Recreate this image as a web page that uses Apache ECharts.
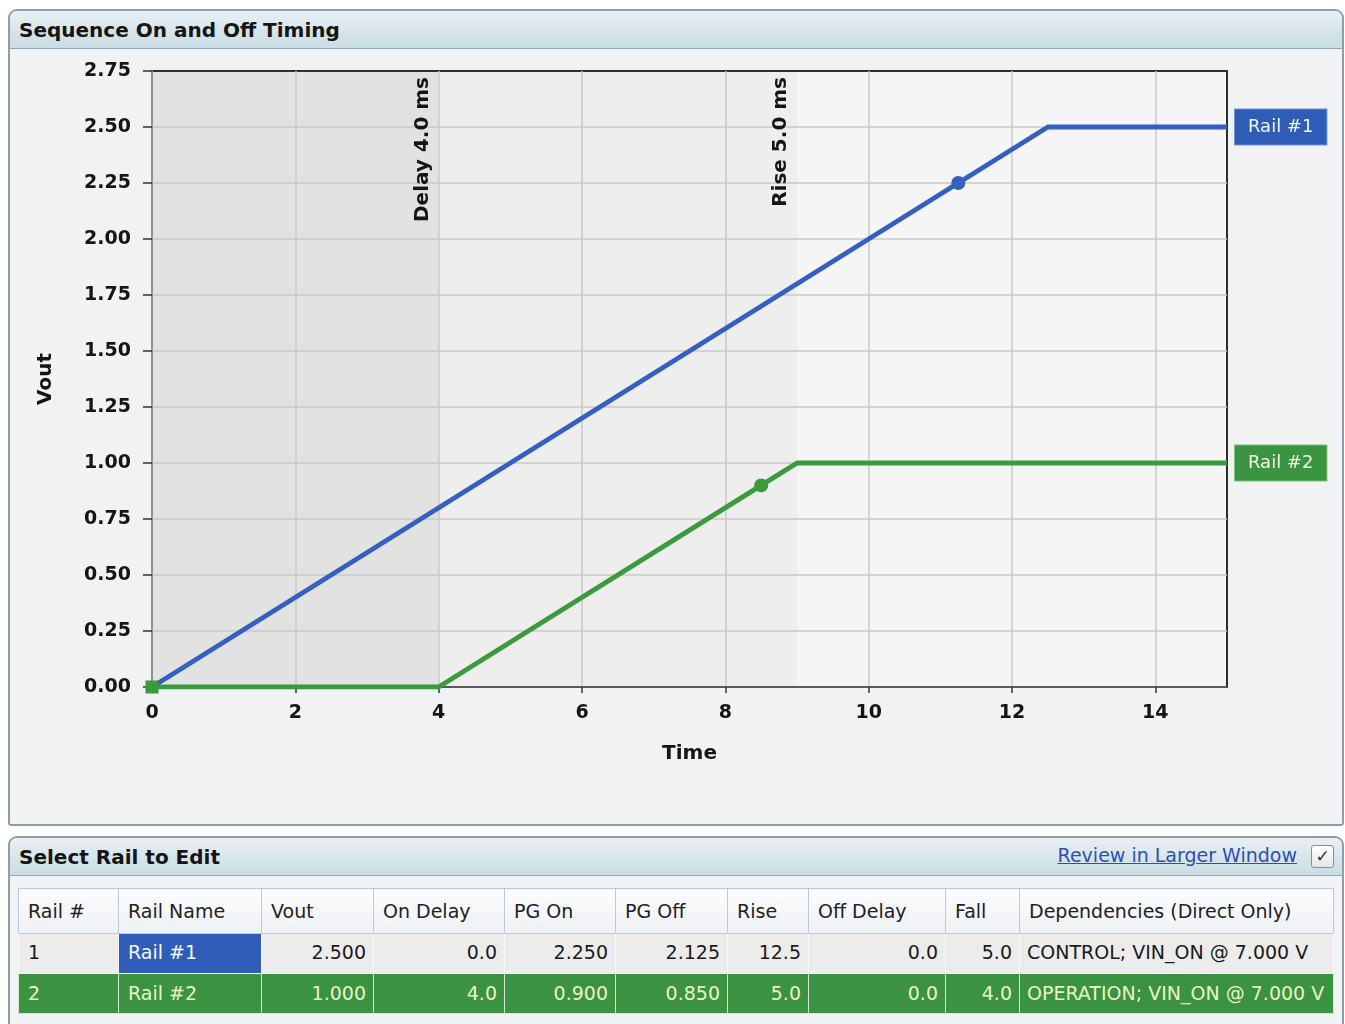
<!DOCTYPE html>
<html>
<head>
<meta charset="utf-8">
<script src="https://cdn.jsdelivr.net/npm/echarts@6/dist/echarts.min.js"></script>
<style>
  html, body { margin: 0; padding: 0; background: #ffffff; width: 1345px; height: 1024px; overflow: hidden;
    font-family: "DejaVu Sans", sans-serif; }
  .panel { position: absolute; left: 8px; width: 1336px; box-sizing: border-box; border: 2px solid #8d9ea6;
    border-radius: 9px 9px 3px 3px; background: #f0f2f3; overflow: hidden; }
  .hdr { height: 37px; background: linear-gradient(#e7f0f4, #cadce4); border-bottom: 1px solid #93a8b1;
    font-weight: bold; font-size: 20px; line-height: 38px; padding-left: 9px; color: #151515; }
  #p1 { top: 9px; height: 817px; }
  #p2 { top: 836px; height: 210px; }
  #chart { position: absolute; left: 0; top: 0; width: 1345px; height: 830px; }
  #link { position: absolute; right: 48px; top: 844px; font-size: 19px; color: #2c4fb6; text-decoration: underline; }
  #chk { position: absolute; left: 1311px; top: 845px; width: 21px; height: 21px; border: 1px solid #8b8f93;
    border-radius: 3px; background: linear-gradient(#ffffff, #e4e7ea); font-size: 17px; line-height: 21px;
    text-align: center; color: #333; }
  #tblWrap { position: absolute; left: 18px; top: 888px; width: 1315px; }
  table { border-collapse: collapse; table-layout: fixed; width: 1315px; font-size: 19px; }
  th, td { white-space: nowrap; overflow: hidden; padding: 0 7px 0 9px; }
  th { height: 44px; font-weight: normal; text-align: left; color: #222;
    background: linear-gradient(#fbfcfd, #eef1f5); border: 1px solid #bdc9df; }
  td { height: 39px; }
  tr.r1 td { background: #ececec; color: #1a1a1a; border: 1px solid #fafafa; padding-bottom: 4px; height: 35px; }
  tr.r2 td { background: #3b9240; color: #e9f6c6; border: 1px solid #d7e6d3; padding-bottom: 2px; height: 37px; }
  td.num { text-align: right; }
  td.sel { background: #2f5cb6 !important; color: #f4f7ff !important; }
  td.dep { padding-left: 7px; padding-right: 0; text-overflow: clip; }
</style>
</head>
<body>
<div class="panel" id="p1"><div class="hdr">Sequence On and Off Timing</div></div>
<div class="panel" id="p2"><div class="hdr">Select Rail to Edit</div></div>
<div id="link">Review in Larger Window</div>
<div id="chk">✓</div>
<div id="tblWrap"></div>
<div id="chart"></div>

<script>
// Rail settings shown in the edit table
const colHeads   = ['Rail #', 'Rail Name', 'Vout', 'On Delay', 'PG On', 'PG Off', 'Rise', 'Off Delay', 'Fall', 'Dependencies (Direct Only)'];
const colWidths  = [100, 143, 112, 131, 111, 112, 81, 137, 74, 314];
const railNums   = ['1', '2'];
const railNames  = ['Rail #1', 'Rail #2'];
const railVout   = ['2.500', '1.000'];
const railOnDly  = ['0.0', '4.0'];
const railPgOn   = ['2.250', '0.900'];
const railPgOff  = ['2.125', '0.850'];
const railRise   = ['12.5', '5.0'];
const railOffDly = ['0.0', '0.0'];
const railFall   = ['5.0', '4.0'];
const railDeps   = ['CONTROL; VIN_ON @ 7.000 V', 'OPERATION; VIN_ON @ 7.000 V'];

// Ramp waveforms (time in ms, voltage in V)
const rail1Time = [0, 11.25, 12.5, 15];
const rail1Volt = [0, 2.25, 2.5, 2.5];
const rail1PgIndex = 1;
const rail2Time = [0, 4, 8.5, 9, 15];
const rail2Volt = [0, 0, 0.9, 1.0, 1.0];
const rail2PgIndex = 2;

// Phase bands of the selected rail
const phaseEdges  = [0, 4, 9, 15];
const phaseFills  = ['#e2e2e2', '#eeeeee', '#f5f5f5'];
const phaseLabels = ['Delay 4.0 ms', 'Rise 5.0 ms'];

const railColors = ['#3461c1', '#3b9b3c'];
const railLabelFills = ['#2f5cb6', '#3a9440'];

// ---- table ----
(function buildTable() {
  let html = '<table><colgroup>' + colWidths.map(w => '<col style="width:' + w + 'px">').join('') + '</colgroup>';
  html += '<tr>' + colHeads.map(h => '<th>' + h + '</th>').join('') + '</tr>';
  for (let i = 0; i < railNums.length; i++) {
    html += '<tr class="r' + (i + 1) + '">' +
      '<td>' + railNums[i] + '</td>' +
      '<td class="' + (i === 0 ? 'sel' : '') + '">' + railNames[i] + '</td>' +
      '<td class="num">' + railVout[i] + '</td>' +
      '<td class="num">' + railOnDly[i] + '</td>' +
      '<td class="num">' + railPgOn[i] + '</td>' +
      '<td class="num">' + railPgOff[i] + '</td>' +
      '<td class="num">' + railRise[i] + '</td>' +
      '<td class="num">' + railOffDly[i] + '</td>' +
      '<td class="num">' + railFall[i] + '</td>' +
      '<td class="dep">' + railDeps[i] + '</td></tr>';
  }
  html += '</table>';
  document.getElementById('tblWrap').innerHTML = html;
})();

// ---- chart ----
function rampData(times, volts, pgIndex, firstSymbol) {
  return times.map((t, i) => {
    const item = { value: [t, volts[i]], symbol: 'none' };
    if (i === pgIndex) { item.symbol = 'circle'; item.symbolSize = 14; }
    if (i === 0 && firstSymbol) { item.symbol = firstSymbol; item.symbolSize = 13; }
    return item;
  });
}

const chart = echarts.init(document.getElementById('chart'), null, { renderer: 'canvas' });
const axisFont = { fontFamily: 'DejaVu Sans', fontWeight: 'bold', color: '#151515' };

chart.setOption({
  animation: false,
  backgroundColor: 'transparent',
  grid: { left: 152, right: 118, top: 71, height: 616, show: true, borderColor: '#2e2e2e', borderWidth: 2,
    backgroundColor: 'transparent' },
  xAxis: {
    type: 'value', min: 0, max: 15, interval: 2,
    name: 'Time', nameLocation: 'middle', nameGap: 57,
    nameTextStyle: Object.assign({ fontSize: 20 }, axisFont),
    axisLine: { lineStyle: { color: '#444', width: 1.5 } },
    axisTick: { show: true, length: 6, lineStyle: { color: '#333', width: 1.5 } },
    axisLabel: Object.assign({ fontSize: 19, margin: 17, showMaxLabel: false }, axisFont),
    splitLine: { show: true, showMaxLine: false, lineStyle: { color: '#c8c8c8', width: 1.5 } }
  },
  yAxis: {
    type: 'value', min: 0, max: 2.75, interval: 0.25,
    name: 'Vout', nameLocation: 'middle', nameGap: 96,
    nameTextStyle: Object.assign({ fontSize: 20 }, axisFont),
    axisLine: { show: true, lineStyle: { color: '#8a8a8a', width: 1.5 } },
    axisTick: { show: true, length: 9, lineStyle: { color: '#333', width: 1.5 } },
    axisLabel: Object.assign({ fontSize: 19, margin: 21, formatter: v => v.toFixed(2) }, axisFont),
    splitLine: { show: true, showMaxLine: false, lineStyle: { color: '#c8c8c8', width: 1.5 } }
  },
  series: [
    {
      name: railNames[0], type: 'line', z: 3,
      data: rampData(rail1Time, rail1Volt, rail1PgIndex),
      lineStyle: { color: railColors[0], width: 5 },
      itemStyle: { color: railColors[0] },
      endLabel: {
        show: true, formatter: '{a}', distance: 8,
        backgroundColor: railLabelFills[0], borderColor: '#6f93d8', borderWidth: 1,
        padding: [9, 13, 8, 13], color: '#f2f6ff', fontSize: 18, fontFamily: 'DejaVu Sans'
      }
    },
    {
      name: railNames[1], type: 'line', z: 4,
      data: rampData(rail2Time, rail2Volt, rail2PgIndex, 'rect'),
      lineStyle: { color: railColors[1], width: 5 },
      itemStyle: { color: railColors[1] },
      endLabel: {
        show: true, formatter: '{a}', distance: 8,
        backgroundColor: railLabelFills[1], borderColor: '#79bf79', borderWidth: 1,
        padding: [9, 13, 8, 13], color: '#f2fbe6', fontSize: 18, fontFamily: 'DejaVu Sans'
      },
      markArea: {
        silent: true, z: -1,
        data: phaseFills.map((c, i) => [
          { xAxis: phaseEdges[i], itemStyle: { color: c } },
          { xAxis: phaseEdges[i + 1] }
        ])
      },
      markLine: {
        silent: true, symbol: ['none', 'none'],
        lineStyle: { color: 'rgba(0,0,0,0)', width: 1, type: 'solid' },
        label: { show: true, position: 'insideEndTop', distance: 6, fontSize: 20, fontWeight: 'bold',
          fontFamily: 'DejaVu Sans', color: '#151515' },
        data: phaseLabels.map((t, i) => ({ xAxis: phaseEdges[i + 1], label: { formatter: t } }))
      }
    }
  ]
});
</script>
</body>
</html>
